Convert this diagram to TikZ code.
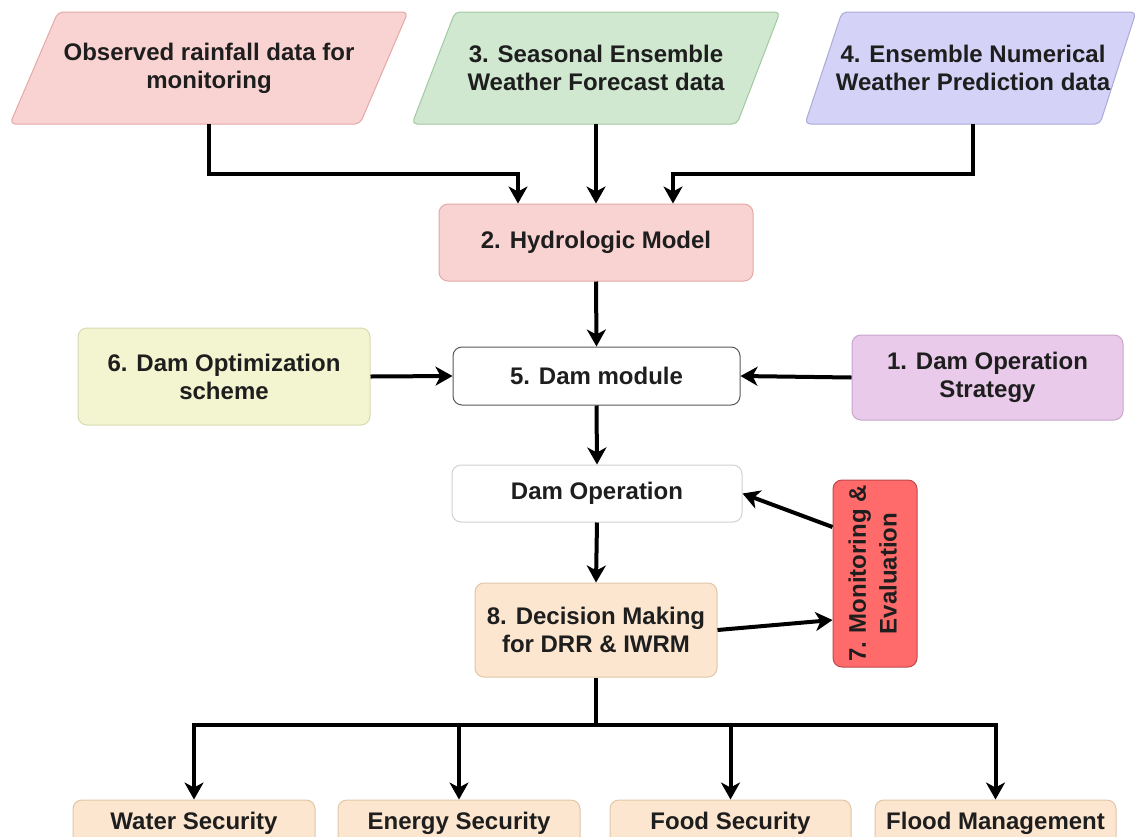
\documentclass[tikz,border=0pt]{standalone}
\usepackage{fontspec}
\usepackage{graphicx}
\setmainfont{Liberation Sans}
\usetikzlibrary{arrows.meta}
\definecolor{pinkf}{HTML}{F9D3D1}
\definecolor{pinkd}{HTML}{E5A9A7}
\definecolor{greenf}{HTML}{D0E8CF}
\definecolor{greend}{HTML}{A3C9A1}
\definecolor{bluef}{HTML}{D4D3F7}
\definecolor{blued}{HTML}{ABAAD8}
\definecolor{yellowf}{HTML}{F3F5D0}
\definecolor{yellowd}{HTML}{D9DAB2}
\definecolor{purplef}{HTML}{E9CAEA}
\definecolor{purpled}{HTML}{C9A6CB}
\definecolor{peachf}{HTML}{FCE6D0}
\definecolor{peachd}{HTML}{E2C6A8}
\definecolor{redf}{HTML}{FF6B6B}
\definecolor{redd}{HTML}{C04848}
\definecolor{txtc}{HTML}{1E1E1E}
\begin{document}
\begin{tikzpicture}[x=1pt,y=-1pt,
  txt/.style={font=\fontsize{24}{28}\selectfont\bfseries, text=txtc, align=center, inner sep=0pt},
  box/.style={txt, rectangle, rounded corners=9pt, line width=1pt},
  arr/.style={line width=4pt, draw=black, -{Stealth[length=17pt,width=19pt,inset=5pt]}},
  para/.style={line width=1pt, rounded corners=5pt}]
\useasboundingbox (0,0) rectangle (1135,836);
\fill[white] (0,0) rectangle (1135,836);

% top parallelograms
\draw[para, fill=pinkf, draw=pinkd] (10,124) -- (58,12) -- (408,12) -- (360,124) -- cycle;
\node[txt, minimum height=112pt] (obs) at (209,68) {Observed rainfall data for\\monitoring};
\draw[para, fill=greenf, draw=greend] (412,124) -- (455,12) -- (780,12) -- (737,124) -- cycle;
\node[txt, minimum height=112pt] (sef) at (596,68) {3. Seasonal Ensemble\\Weather Forecast data};
\draw[para, fill=bluef, draw=blued] (805,124) -- (842,12) -- (1136,12) -- (1100,124) -- cycle;
\node[txt, minimum height=112pt] (enwp) at (973,68) {4. Ensemble Numerical\\Weather Prediction data};

% boxes
\node[box, fill=pinkf, draw=pinkd, minimum width=314pt, minimum height=77pt] (hyd) at (596,242.5) {2. Hydrologic Model};
\node[box, fill=white, draw=black!65, minimum width=287pt, minimum height=58pt] (dm) at (596.5,376) {5. Dam module};
\node[box, fill=yellowf, draw=yellowd, minimum width=292pt, minimum height=97pt] (opt) at (224,376.5) {6. Dam Optimization\\scheme};
\node[box, fill=purplef, draw=purpled, minimum width=271pt, minimum height=85pt] (str) at (987.5,377.5) {1. Dam Operation\\Strategy};
\node[box, fill=white, draw=black!18, minimum width=290pt, minimum height=57pt] (dop) at (597,493.5) {Dam Operation};
\node[box, fill=peachf, draw=peachd, minimum width=242pt, minimum height=94pt] (dec) at (596,630) {8. Decision Making\\for DRR \& IWRM};
\node[box, fill=redf, draw=redd, minimum width=84pt, minimum height=187pt] (mon) at (875,573.5)
  {\rotatebox{90}{\renewcommand\arraystretch{1.1}\begin{tabular}{@{}c@{}}7. Monitoring \&\\Evaluation\end{tabular}}};

% bottom boxes
\node[box, fill=peachf, draw=peachd, minimum width=242pt, minimum height=46pt] (ws) at (194,823) {Water Security};
\node[box, fill=peachf, draw=peachd, minimum width=242pt, minimum height=46pt] (es) at (459,823) {Energy Security};
\node[box, fill=peachf, draw=peachd, minimum width=241pt, minimum height=46pt] (fs) at (730.5,823) {Food Security};
\node[box, fill=peachf, draw=peachd, minimum width=241pt, minimum height=46pt] (fm) at (995.5,823) {Flood Management};

% connectors
\draw[arr] (obs.south) -- ++(0,50) -| ([xshift=-78pt]hyd.north);
\draw[arr] (sef.south) -- (hyd.north);
\draw[arr] (enwp.south) -- ++(0,50) -| ([xshift=77pt]hyd.north);
\draw[arr] (hyd.south) -- (dm.north);
\draw[arr] (opt.east) -- (dm.west);
\draw[arr] (str.west) -- (dm.east);
\draw[arr] (dm.south) -- (dop.north);
\draw[arr] (dop.south) -- (dec.north);
\draw[arr] ([yshift=46.5pt]mon.west) -- (dop.east);
\draw[arr] (dec.east) -- ([yshift=-46.5pt]mon.west);
\coordinate (bar) at (596,725);
\draw[line width=4pt] (dec.south) -- (bar);
\draw[arr] (bar) -| (ws.north);
\draw[arr] (bar) -| (es.north);
\draw[arr] (bar) -| (fs.north);
\draw[arr] (bar) -| (fm.north);
\end{tikzpicture}
\end{document}
